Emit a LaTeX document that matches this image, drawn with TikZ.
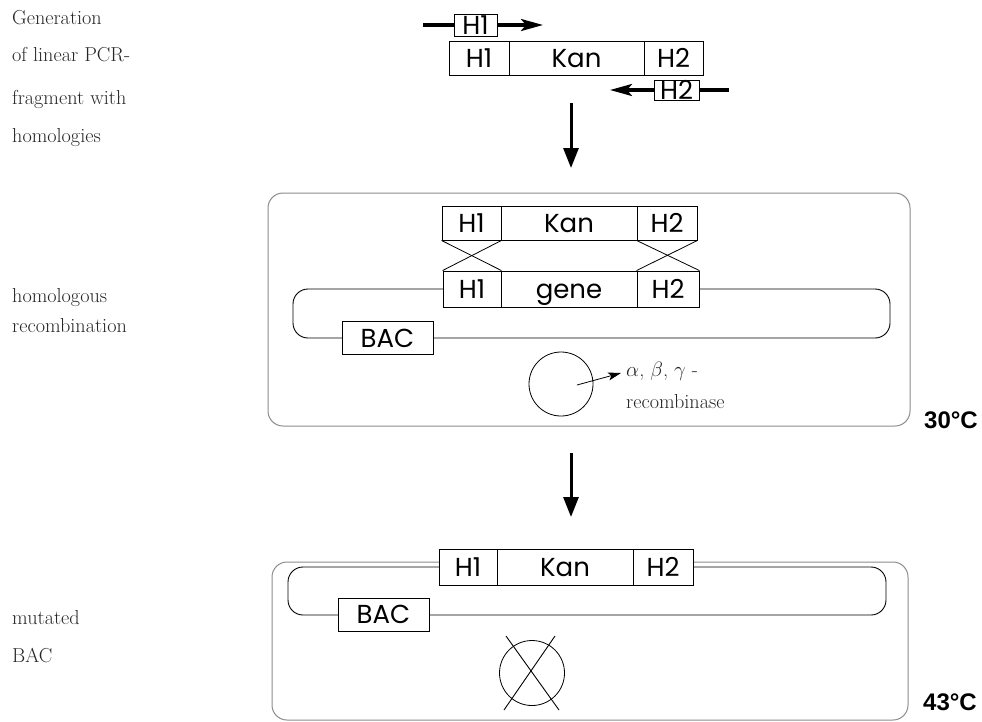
\documentclass[tikz,border=0pt]{standalone}
\usepackage{fontspec}
\newfontfamily\gfont{Poppins}
\newfontfamily\hfont{Liberation Sans}
\usetikzlibrary{arrows.meta}
\begin{document}
\begin{tikzpicture}[x=1pt,y=-1pt,
  seg/.style={rectangle, draw=black, line width=0.9pt, fill=white, inner sep=0pt,
    text height=18pt, text depth=0pt, font=\gfont\fontsize{26}{26}\selectfont},
  primer/.style={line width=3.2pt},
  ptip/.style={-{Stealth[length=22pt,width=12pt,inset=5pt]}},
  bigarrow/.style={line width=3pt, -{Triangle[length=20pt,width=15pt]}},
  smallarrow/.style={line width=0.8pt, -{Stealth[length=13pt,width=8pt,inset=3pt]}},
  bigbox/.style={rectangle, draw=black!45, line width=1pt, rounded corners=15pt, inner sep=0pt},
  loopline/.style={line width=0.9pt, rounded corners=15pt},
  thinline/.style={line width=0.8pt},
  lab/.style={anchor=base west, inner sep=0pt, text=black!85, font=\fontsize{20.2}{24}\selectfont},
  temp/.style={font=\hfont\bfseries\fontsize{24}{24}\selectfont, inner sep=0pt}
]
\useasboundingbox (0,0) rectangle (982,721);

% ---------- left labels ----------
\node[lab] (l1) at (12,24) {Generation};
\node[lab] (l2) at (12,61) {of linear PCR-};
\node[lab] (l3) at (12,104) {fragment with};
\node[lab] (l4) at (12,142) {homologies};
\node[lab] (l5) at (12,302) {homologous};
\node[lab] (l6) at (12,332) {recombination};
\node[lab] (l7) at (12,624) {mutated};
\node[lab] (l8) at (12,662) {BAC};

% ---------- top: PCR fragment ----------
\node[seg, minimum width=60pt, minimum height=34pt] (tH1) at (479,58) {H1};
\node[seg, minimum width=135pt, minimum height=34pt] (tKan) at (576.5,58) {Kan};
\node[seg, minimum width=59pt, minimum height=34pt] (tH2) at (673.5,58) {H2};

\node[seg, minimum width=43pt, minimum height=22pt] (p1) at (475.5,25) {H1};
\coordinate (p1s) at (423,25);
\coordinate (p1e) at (543,25);
\draw[primer] (p1s) -- (p1.west);
\draw[primer, ptip] (p1.east) -- (p1e);

\node[seg, minimum width=45pt, minimum height=20pt] (p2) at (676.5,90) {H2};
\coordinate (p2e) at (610,90);
\coordinate (p2s) at (729,90);
\draw[primer, ptip] (p2.west) -- (p2e);
\draw[primer] (p2.east) -- (p2s);

\coordinate (a1s) at (571,103);
\coordinate (a1e) at (571,168);
\draw[bigarrow] (a1s) -- (a1e);

% ---------- middle: homologous recombination ----------
\node[bigbox, minimum width=642pt, minimum height=233pt] (mbox) at (589,309.5) {};

\node[seg, minimum width=59pt, minimum height=34pt] (mH1) at (471.5,223) {H1};
\node[seg, minimum width=136pt, minimum height=34pt] (mKan) at (569,223) {Kan};
\node[seg, minimum width=60pt, minimum height=34pt] (mH2) at (667,223) {H2};

\coordinate (lL) at (293,338);
\coordinate (lR) at (890,338);
\draw[loopline] (472,289) -| (lL) -- (387,338);
\draw[loopline] (387,338) -- (lR) |- (668,289);

\node[seg, minimum width=58pt, minimum height=36pt] (gH1) at (472,289) {H1};
\node[seg, minimum width=136pt, minimum height=36pt] (gene) at (569,289) {gene};
\node[seg, minimum width=62pt, minimum height=36pt] (gH2) at (668,289) {H2};

\draw[thinline] (mH1.south west) -- (gH1.north east);
\draw[thinline] (mH1.south east) -- (gH1.north west);
\draw[thinline] (mH2.south west) -- (gH2.north east);
\draw[thinline] (mH2.south east) -- (gH2.north west);

\node[seg, minimum width=91pt, minimum height=33pt] (mBAC) at (387.5,338) {BAC};

\node[circle, draw, line width=0.8pt, minimum size=64pt, inner sep=0pt] (cell) at (561,384) {};
\node[lab] (abg) at (626,376) {$\alpha$, $\beta$, $\gamma$ -};
\node[lab] (rec) at (626,408) {recombinase};
\coordinate (rs) at (577,385);
\coordinate (re) at (621,373);
\draw[smallarrow] (rs) -- (re);

\node[temp] (t30) at (951,420) {30°C};

\coordinate (a2s) at (571,453);
\coordinate (a2e) at (571,517);
\draw[bigarrow] (a2s) -- (a2e);

% ---------- bottom: mutated BAC ----------
\node[bigbox, minimum width=636pt, minimum height=158pt] (bbox) at (590,641) {};

\coordinate (bL) at (288,615);
\coordinate (bR) at (886,615);
\draw[loopline] (468,567) -| (bL) -- (383,615);
\draw[loopline] (383,615) -- (bR) |- (663,567);

\node[seg, minimum width=58pt, minimum height=36pt] (bH1) at (468,567) {H1};
\node[seg, minimum width=136pt, minimum height=36pt] (bKan) at (565,567) {Kan};
\node[seg, minimum width=60pt, minimum height=36pt] (bH2) at (663,567) {H2};

\node[seg, minimum width=91pt, minimum height=33pt] (bBAC) at (383.5,614.5) {BAC};

\node[circle, draw, line width=0.8pt, minimum size=65pt, inner sep=0pt] (dead) at (532,673) {};
\coordinate (x1a) at (506,636);
\coordinate (x1b) at (559,710);
\coordinate (x2a) at (555,636);
\coordinate (x2b) at (504,710);
\draw[line width=0.9pt] (x1a) -- (x1b);
\draw[line width=0.9pt] (x2a) -- (x2b);

\node[temp] (t43) at (950,702) {43°C};
\end{tikzpicture}
\end{document}
